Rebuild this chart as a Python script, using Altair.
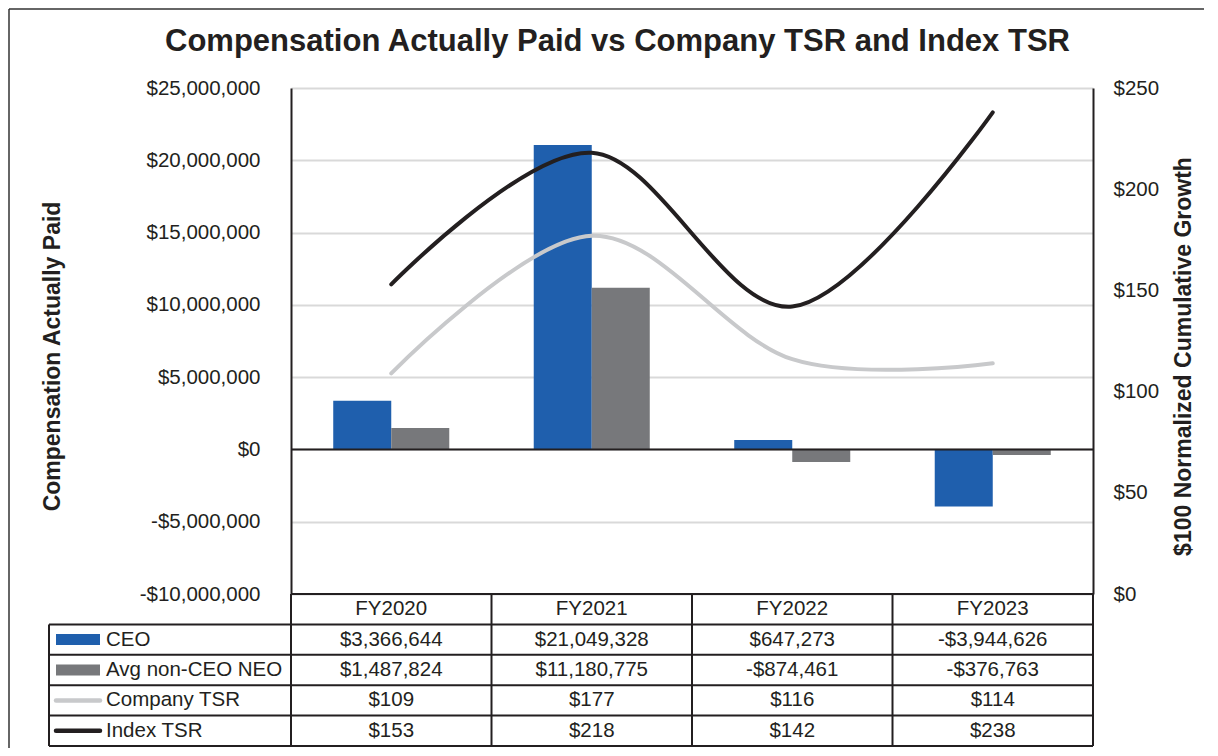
import altair as alt
import pandas as pd

# ---------------- data ----------------
years = ["FY2020", "FY2021", "FY2022", "FY2023"]
ceo_cap = [3366644, 21049328, 647273, -3944626]
neo_cap = [1487824, 11180775, -874461, -376763]
company_tsr = [109, 177, 116, 114]
index_tsr = [153, 218, 142, 238]

bar_series = ["CEO", "Avg non-CEO NEO"]
line_series = ["Company TSR", "Index TSR"]
all_series = bar_series + line_series
series_colors = ["#1f5fad", "#77787b", "#c8c9cb", "#231f20"]

left_ticks = [-10000000, -5000000, 0, 5000000, 10000000, 15000000, 20000000, 25000000]
right_ticks = [0, 50, 100, 150, 200, 250]

TITLE = "Compensation Actually Paid vs Company TSR and Index TSR"
LEFT_TITLE = "Compensation Actually Paid"
RIGHT_TITLE = "$100 Normalized Cumulative Growth"

# ---------------- layout / style ----------------
FONT = "Liberation Sans"
INK = "#231f20"
GRID = "#d9d9d9"
W, H, TABLE_H = 802, 506, 152
N_ROWS = 1 + len(all_series)
COL_W = W / len(years)
LABEL_W = 242 / COL_W          # width of the row-label column, in column units
SW_X0, SW_X1 = -235 / COL_W, -191 / COL_W   # legend swatch span
TXT_X = -185 / COL_W           # row label start


def money(v):
    return f"-${abs(v):,}" if v < 0 else f"${v:,}"


bars_df = pd.DataFrame({
    "year": years * 2,
    "series": [bar_series[0]] * len(years) + [bar_series[1]] * len(years),
    "value": ceo_cap + neo_cap,
})
lines_df = pd.DataFrame({
    "year": years * 2,
    "series": [line_series[0]] * len(years) + [line_series[1]] * len(years),
    "value": company_tsr + index_tsr,
})

color_scale = alt.Scale(domain=all_series, range=series_colors)
# The chart title is carried by the (otherwise hidden) top x axis
x_axis = alt.Axis(
    orient="top", labels=False, ticks=False, domain=False, grid=False,
    title=TITLE, titleFont=FONT, titleFontSize=31, titleFontWeight="bold", titleColor=INK,
    titleX=326, titleY=-38, titleAlign="center", titleBaseline="alphabetic", titleAngle=0,
)
x_main = alt.X("year:N", sort=years, axis=x_axis,
               scale=alt.Scale(domain=years, paddingInner=0, paddingOuter=0))

bars = alt.Chart(bars_df).mark_bar().encode(
    x=x_main,
    xOffset=alt.XOffset("series:N", sort=bar_series,
                        scale=alt.Scale(domain=bar_series, paddingInner=0, paddingOuter=0.728)),
    y=alt.Y("value:Q",
            scale=alt.Scale(domain=[left_ticks[0], left_ticks[-1]], nice=False, zero=False),
            axis=alt.Axis(
                values=left_ticks,
                labelExpr="datum.value < 0 ? '-' + format(-datum.value, '$,.0f') : format(datum.value, '$,.0f')",
                ticks=False, tickSize=0, labelPadding=31,
                labelFont=FONT, labelFontSize=20.5, labelColor=INK,
                domain=True, domainColor=INK, domainWidth=2,
                grid=True, gridColor=GRID, gridWidth=2,
                title=LEFT_TITLE, titleFont=FONT, titleFontSize=23, titleFontWeight="bold",
                titleColor=INK, titleAngle=270, titleX=-239, titleY=268,
                titleAlign="center", titleBaseline="middle",
            )),
    color=alt.Color("series:N", scale=color_scale, legend=None),
)

zero_rule = alt.Chart(pd.DataFrame({"z": [0]})).mark_rule(color=INK, strokeWidth=2).encode(
    y=alt.datum(0)
)

lines = alt.Chart(lines_df).mark_line(
    interpolate="cardinal", tension=0, strokeWidth=4, strokeCap="round", strokeJoin="round"
).encode(
    x=x_main,
    y=alt.Y("value:Q",
            scale=alt.Scale(domain=[right_ticks[0], right_ticks[-1]], nice=False, zero=False),
            axis=alt.Axis(
                orient="right", values=right_ticks,
                labelExpr="'$' + datum.label",
                ticks=False, tickSize=0, labelPadding=20,
                labelFont=FONT, labelFontSize=20.5, labelColor=INK,
                domain=True, domainColor=INK, domainWidth=2, grid=False,
                title=RIGHT_TITLE, titleFont=FONT, titleFontSize=23, titleFontWeight="bold",
                titleColor=INK, titleAngle=270, titleX=90, titleY=268,
                titleAlign="center", titleBaseline="middle",
            )),
    color=alt.Color("series:N", scale=color_scale, legend=None),
    detail="series:N",
)

frame_df = pd.DataFrame({"k": [0]})
frame_left = alt.Chart(frame_df).mark_rule(color="#333333", strokeWidth=1.5).encode(
    x=alt.value(-282), y=alt.value(-79), y2=alt.value(H + TABLE_H + 2)
)
frame_top = alt.Chart(frame_df).mark_rule(color="#333333", strokeWidth=1.5).encode(
    x=alt.value(-282), x2=alt.value(913), y=alt.value(-79)
)

main = alt.layer(
    alt.layer(bars, zero_rule),
    lines,
    frame_left,
    frame_top,
).resolve_scale(y="independent").properties(width=W, height=H)

# ---------------- data table ----------------
cell_rows = []
for r, (name, vals) in enumerate(zip(all_series, [ceo_cap, neo_cap, company_tsr, index_tsr]), start=1):
    for c, v in enumerate(vals):
        cell_rows.append({"x": c + 0.5, "y": r + 0.5, "text": money(v)})
cells_df = pd.DataFrame(cell_rows)
header_df = pd.DataFrame({"x": [c + 0.5 for c in range(len(years))], "y": [0.5] * len(years), "text": years})
labels_df = pd.DataFrame({"x": [TXT_X] * len(all_series),
                          "y": [r + 1.5 for r in range(len(all_series))],
                          "text": all_series})

seg = []
for c in range(len(years) + 1):
    seg.append({"x": c, "x2": c, "y": 0, "y2": N_ROWS})
seg.append({"x": -LABEL_W, "x2": -LABEL_W, "y": 1, "y2": N_ROWS})
seg.append({"x": 0, "x2": len(years), "y": 0, "y2": 0})
for r in range(1, N_ROWS + 1):
    seg.append({"x": -LABEL_W, "x2": len(years), "y": r, "y2": r})
seg_df = pd.DataFrame(seg)

sw_df = pd.DataFrame({
    "series": all_series,
    "x": [SW_X0] * len(all_series),
    "x2": [SW_X1] * len(all_series),
    "y": [r + 1.5 for r in range(len(all_series))],
})

tx = alt.Scale(domain=[0, len(years)], nice=False, zero=False)
ty = alt.Scale(domain=[0, N_ROWS], nice=False, zero=False, reverse=True)

grid_lines = alt.Chart(seg_df).mark_rule(color=INK, strokeWidth=2).encode(
    x=alt.X("x:Q", scale=tx, axis=None), x2="x2:Q",
    y=alt.Y("y:Q", scale=ty, axis=None), y2="y2:Q",
)
text_kw = dict(font=FONT, fontSize=20.5, color=INK, baseline="middle")
cell_text = alt.Chart(cells_df).mark_text(align="center", **text_kw).encode(
    x=alt.X("x:Q", scale=tx, axis=None), y=alt.Y("y:Q", scale=ty, axis=None), text="text:N")
header_text = alt.Chart(header_df).mark_text(align="center", **text_kw).encode(
    x=alt.X("x:Q", scale=tx, axis=None), y=alt.Y("y:Q", scale=ty, axis=None), text="text:N")
label_text = alt.Chart(labels_df).mark_text(align="left", **text_kw).encode(
    x=alt.X("x:Q", scale=tx, axis=None), y=alt.Y("y:Q", scale=ty, axis=None), text="text:N")

sw_bar = alt.Chart(sw_df).transform_filter(
    alt.FieldOneOfPredicate(field="series", oneOf=bar_series)
).mark_rule(strokeWidth=11, strokeCap="butt").encode(
    x=alt.X("x:Q", scale=tx, axis=None), x2="x2:Q",
    y=alt.Y("y:Q", scale=ty, axis=None),
    color=alt.Color("series:N", scale=color_scale, legend=None),
)
sw_line = alt.Chart(sw_df).transform_filter(
    alt.FieldOneOfPredicate(field="series", oneOf=line_series)
).mark_rule(strokeWidth=4.5, strokeCap="round").encode(
    x=alt.X("x:Q", scale=tx, axis=None), x2="x2:Q",
    y=alt.Y("y:Q", scale=ty, axis=None),
    color=alt.Color("series:N", scale=color_scale, legend=None),
)

table = alt.layer(grid_lines, sw_bar, sw_line, header_text, cell_text, label_text).properties(
    width=W, height=TABLE_H)

chart = alt.vconcat(main, table, spacing=0, bounds="flush").properties(
    padding=0,
    background="white",
).configure_view(stroke=None)

chart.save("out.html", embed_options={"renderer": "svg", "actions": False})
